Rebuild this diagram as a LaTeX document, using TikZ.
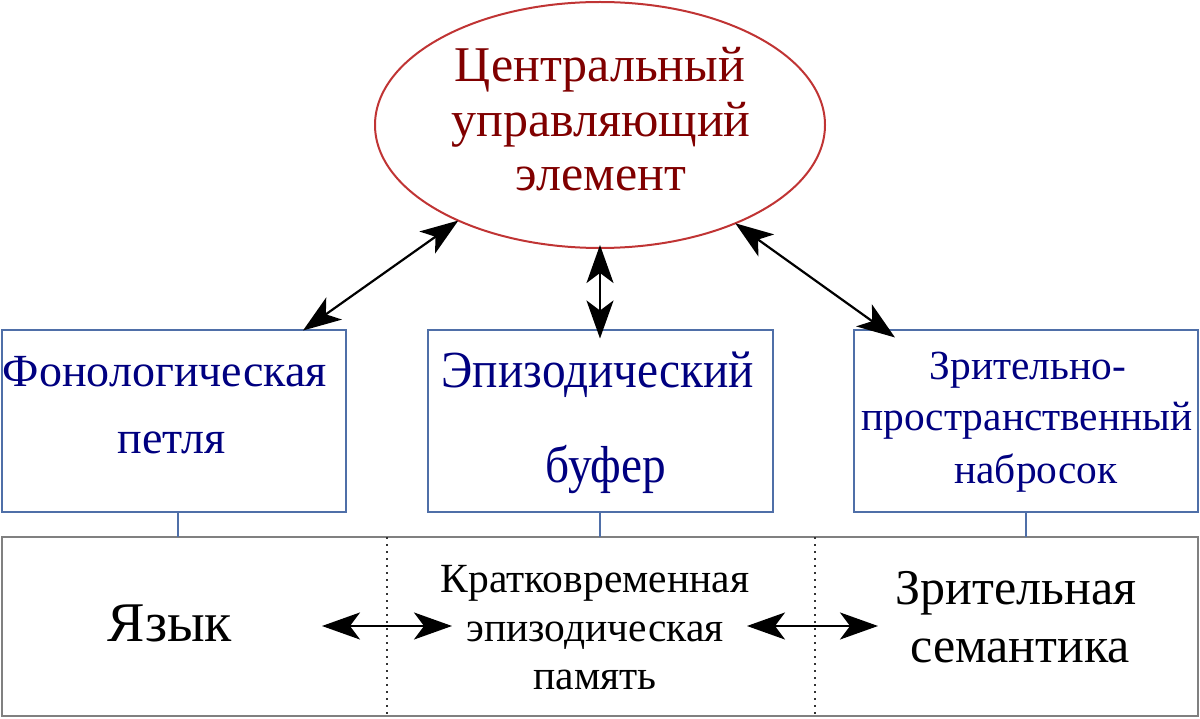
\documentclass[tikz,border=0pt]{standalone}
\usepackage{fontspec}
\setmainfont{Liberation Serif}
\newfontfamily\narrowfont[FakeStretch=0.91]{Liberation Serif}
\usetikzlibrary{arrows.meta,shapes.geometric}
\definecolor{ered}{HTML}{C03434}
\definecolor{etext}{HTML}{800000}
\definecolor{bblue}{HTML}{4F6FA8}
\definecolor{btext}{HTML}{000080}
\definecolor{mgray}{HTML}{808080}
\begin{document}
\begin{tikzpicture}[x=1pt,y=-1pt,
  every node/.style={inner sep=0pt, outer sep=0pt},
  bbox/.style={draw=bblue, line width=2pt, rectangle},
  arr/.style={line width=2.2pt, {Stealth[length=38pt,width=27pt,inset=10pt]}-{Stealth[length=38pt,width=27pt,inset=10pt]}},
  stub/.style={draw=bblue, line width=2pt},
  divider/.style={line width=1.6pt, dash pattern=on 1.6pt off 5.4pt, draw=black!80},
  et/.style={text=etext, font=\fontsize{50}{54}\selectfont, anchor=base},
  bt/.style={text=btext, anchor=base},
  kt/.style={text=black, anchor=base}
]
\useasboundingbox (0,0) rectangle (1200,719);

% central executive
\node[ellipse, draw=ered, line width=2pt, minimum width=450pt, minimum height=246pt] (ce) at (600,125) {};
\node[et] (ce1) at (600,82) {Центральный};
\node[et] (ce2) at (601,137) {управляющий};
\node[et] (ce3) at (601,191) {элемент};

% boxes
\node[bbox, minimum width=344pt, minimum height=181pt] (pl) at (174,421) {};
\node[bbox, minimum width=345pt, minimum height=181pt] (eb) at (600,421) {};
\node[bbox, minimum width=344pt, minimum height=181pt] (vs) at (1026,421) {};

\node[bt, font=\fontsize{46}{50}\selectfont] (pl1) at (165,387) {Фонологическая};
\node[bt, font=\fontsize{46}{50}\selectfont] (pl2) at (172,453) {петля};

\node[bt, font=\narrowfont\fontsize{52}{56}\selectfont] (eb1) at (598,388) {Эпизодический};
\node[bt, font=\narrowfont\fontsize{52}{56}\selectfont] (eb2) at (606,482) {буфер};

\node[bt, font=\fontsize{41.4}{44}\selectfont] (vs1) at (1028,380) {Зрительно-};
\node[bt, font=\fontsize{41.4}{44}\selectfont] (vs2) at (1027,430) {пространственный};
\node[bt, font=\fontsize{41.4}{44}\selectfont] (vs3) at (1036,483) {набросок};

% long-term memory band
\node[draw=mgray, line width=2pt, minimum width=1196pt, minimum height=179pt] (mem) at (600,626.5) {};
\draw[divider] ([xshift=-213pt]mem.north) -- ([xshift=-213pt]mem.south);
\draw[divider] ([xshift=215pt]mem.north) -- ([xshift=215pt]mem.south);

\draw[stub] ([xshift=4pt]pl.south) -- ([xshift=4pt]pl.south |- mem.north);
\draw[stub] (eb.south) -- (eb.south |- mem.north);
\draw[stub] (vs.south) -- (vs.south |- mem.north);

\node[kt, font=\fontsize{56}{60}\selectfont] (lang) at (170,641) {Язык};
\node[kt, font=\fontsize{41.5}{45}\selectfont] (em1) at (595,592) {Кратковременная};
\node[kt, font=\fontsize{41.5}{45}\selectfont] (em2) at (595,641) {эпизодическая};
\node[kt, font=\fontsize{41.5}{45}\selectfont] (em3) at (595,689) {память};
\node[kt, font=\fontsize{50}{54}\selectfont] (vsem1) at (1016,604) {Зрительная};
\node[kt, font=\fontsize{50}{54}\selectfont] (vsem2) at (1020,662) {семантика};

\coordinate (a1) at (322,626);
\coordinate (a2) at (452,626);
\coordinate (b1) at (747,626);
\coordinate (b2) at (878,626);
\draw[arr] (a1) -- (a2);
\draw[arr] (b1) -- (b2);

% arrows to central executive
\draw[arr] ([xshift=-43pt]pl.north east) -- (ce.214.5);
\draw[arr] ([yshift=3pt]ce.south) -- ([yshift=-8pt]eb.north);
\draw[arr] (ce.324) -- ([xshift=41pt,yshift=-7pt]vs.north west);
\end{tikzpicture}
\end{document}
